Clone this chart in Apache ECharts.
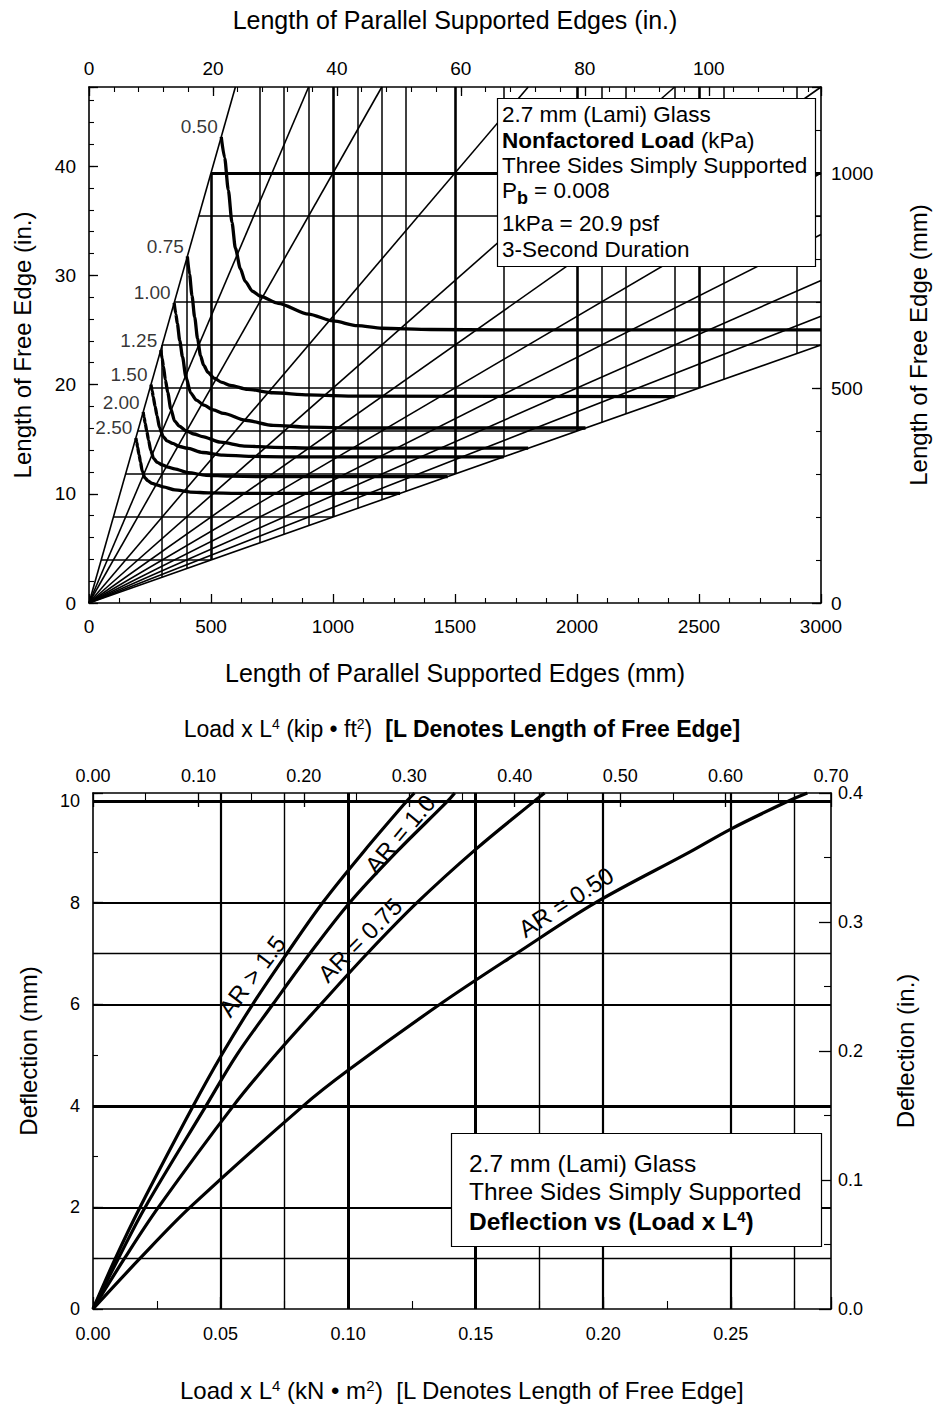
<!DOCTYPE html>
<html><head><meta charset="utf-8">
<script src="https://cdn.jsdelivr.net/npm/echarts@6/dist/echarts.min.js"></script>
<style>html,body{margin:0;padding:0;background:#fff}#c{width:938px;height:1410px}</style>
</head><body><div id="c"></div>
<script>
// ===== TOP CHART DATA (all in mm) =====
const aspectRatios = [0.5, 0.75, 1, 1.5, 2, 2.5, 3, 3.5, 4, 4.5, 5];
const gridVerticalsMM = [300, 400, 700, 800, 900, 1100, 1200, 1300, 1700, 2100, 2200, 2400, 2600, 2900];
const thickVerticalsMM = [500, 1000, 1500, 2000, 2500];
const gridHorizontalsMM = [100, 200, 300, 400, 500, 600, 700, 900];
const thickHorizontalsMM = [1000];
const loadLabels = ['0.50', '0.75', '1.00', '1.25', '1.50', '2.00', '2.50'];
const load050X = [542, 556, 571, 586, 600, 620, 640, 670, 700, 775, 900, 1000, 1100, 1200, 1400, 1700, 3000];
const load050Y = [1084, 1035, 960, 885, 825, 778, 748, 725, 714, 697, 672, 656, 645, 639, 636, 635, 635];
const load075X = [403, 412, 422, 433, 445, 457, 470, 488, 512, 545, 580, 650, 755, 900, 1100, 2400];
const load075Y = [806, 765, 715, 665, 615, 575, 553, 536, 523, 513, 506, 497, 489, 484, 481, 480];
const load100X = [349, 356, 362, 372, 383, 397, 417, 440, 471, 510, 552, 640, 755, 900, 1100, 2035];
const load100Y = [698, 672, 650, 610, 573, 526, 488, 472, 460, 449, 441, 425, 413, 409, 407, 407];
const load125X = [294, 300, 305, 313, 323, 335, 351, 371, 397, 430, 465, 539, 636, 759, 926, 1800];
const load125Y = [588, 568, 550, 519, 489, 452, 423, 411, 401, 393, 387, 374, 365, 362, 360, 360];
const load150X = [254, 259, 263, 271, 279, 289, 304, 320, 343, 371, 402, 466, 549, 655, 800, 1700];
const load150Y = [508, 493, 480, 457, 435, 408, 387, 377, 371, 364, 360, 350, 344, 341, 340, 340];
const load200X = [222, 226, 230, 237, 244, 253, 265, 280, 300, 324, 351, 407, 480, 573, 699, 1470];
const load200Y = [444, 431, 419, 399, 379, 355, 336, 327, 321, 316, 312, 303, 297, 295, 294, 294];
const load250X = [192, 196, 199, 205, 211, 218, 229, 242, 259, 281, 304, 352, 415, 495, 605, 1275];
const load250Y = [384, 373, 363, 345, 328, 307, 291, 284, 278, 274, 270, 263, 258, 256, 255, 255];

// ===== BOTTOM CHART DATA (x: kN·m², y: mm) =====
const arLabels = ['AR > 1.5', 'AR = 1.0', 'AR = 0.75', 'AR = 0.50'];
const ar15X = [0, 0.0088, 0.0184, 0.0393, 0.0504, 0.0626, 0.0760, 0.0900, 0.1060, 0.1230, 0.1260];
const ar15Y = [0, 1, 2, 4, 5, 6, 7, 8, 9, 10, 10.16];
const ar10X = [0, 0.0100, 0.0204, 0.0443, 0.0563, 0.0705, 0.0850, 0.1006, 0.1190, 0.1390, 0.1418];
const ar10Y = [0, 1, 2, 4, 5, 6, 7, 8, 9, 10, 10.16];
const ar075X = [0, 0.0124, 0.0256, 0.0550, 0.0715, 0.0893, 0.1075, 0.1270, 0.1500, 0.1730, 0.1770];
const ar075Y = [0, 1, 2, 4, 5, 6, 7, 8, 9.05, 10, 10.16];
const ar050X = [0, 0.0185, 0.0380, 0.0824, 0.1000, 0.1360, 0.1660, 0.1970, 0.2340, 0.2500, 0.2725, 0.2800];
const ar050Y = [0, 1, 2, 4, 4.7, 6, 7, 8, 9, 9.45, 10, 10.16];
const bottomVerticalsThin = [0.075, 0.175, 0.275];
const bottomVerticalsMid = [0.05, 0.20, 0.25];
const bottomVerticalsThick = [0.10, 0.15];
const bottomHorizontalsThin = [1, 7];
const bottomHorizontalsMid = [2, 6, 8];
const bottomHorizontalsThick = [4, 10];

// ===== unit conversions / limits =====
const MM_PER_IN = 25.4;
const TOP_X_MAX_MM = 3000, TOP_Y_MAX_MM = 1200;
const KNM2_PER_KIPFT2 = 4.4482216 * 0.09290304;
const BOT_X_MAX_KIP = 0.70, BOT_Y_MAX_IN = 0.4;
const BOT_X_MAX = BOT_X_MAX_KIP * KNM2_PER_KIPFT2;
const BOT_Y_MAX = BOT_Y_MAX_IN * MM_PER_IN;

const FONT = "'Liberation Sans', Arial, Helvetica, sans-serif";
const BLACK = '#000';

const arMin = Math.min(...aspectRatios), arMax = Math.max(...aspectRatios);
function fanSegs() {
  return aspectRatios.map(ar => {
    const xe = Math.min(TOP_X_MAX_MM, TOP_Y_MAX_MM * ar);
    return { coords: [[0, 0], [xe, xe / ar]] };
  });
}
function vSegs(list) {
  return list.map(x => ({ coords: [[x, x / arMax], [x, Math.min(x / arMin, TOP_Y_MAX_MM)]] }));
}
function hSegs(list) {
  return list.map(y => ({ coords: [[y * arMin, y], [Math.min(y * arMax, TOP_X_MAX_MM), y]] }));
}
function fullV(list) { return list.map(x => ({ coords: [[x, 0], [x, BOT_Y_MAX]] })); }
function fullH(list) { return list.map(y => ({ coords: [[0, y], [BOT_X_MAX, y]] })); }
function pairs(X, Y) { return X.map((x, i) => [x, Y[i]]); }
function isMult(v, step) { return Math.abs(v / step - Math.round(v / step)) < 1e-6; }

function majorAxis(o) {
  return Object.assign({
    type: 'value',
    axisLine: { show: true, onZero: false, lineStyle: { color: BLACK, width: 1.6 } },
    splitLine: { show: false },
    axisTick: { show: true, inside: true, length: o.tickLen || 9, lineStyle: { color: BLACK, width: 1.3 } },
    axisLabel: { show: true, color: BLACK, fontFamily: FONT, fontSize: o.fontSize || 19, margin: o.margin || 10, formatter: o.fmt },
    nameLocation: 'middle',
    nameTextStyle: { color: BLACK, fontFamily: FONT, fontSize: 24 }
  }, o.extra || {});
}
function minorAxis(o) {
  return Object.assign({
    type: 'value',
    axisLine: { show: false, onZero: false },
    splitLine: { show: false },
    axisTick: { show: true, inside: true, length: o.tickLen || 5, lineStyle: { color: BLACK, width: 1.1 } },
    axisLabel: { show: false }
  }, o.extra || {});
}

const richName = (size) => ({
  n: { color: BLACK, fontFamily: FONT, fontSize: size },
  b: { color: BLACK, fontFamily: FONT, fontSize: size, fontWeight: 'bold' },
  sup: { color: BLACK, fontFamily: FONT, fontSize: Math.round(size * 0.62), verticalAlign: 'top', lineHeight: 12 }
});

const xAxes = [
  majorAxis({ tickLen: 9, margin: 14, fmt: v => isMult(v, 500) ? String(v) : '',
    extra: { gridIndex: 0, position: 'bottom', min: 0, max: TOP_X_MAX_MM, interval: 500,
      minorTick: { show: true, splitNumber: 4, length: 5, lineStyle: { color: BLACK, width: 1.1 } },
      name: 'Length of Parallel Supported Edges (mm)', nameGap: 57,
      nameTextStyle: { color: BLACK, fontFamily: FONT, fontSize: 25 } } }),
  majorAxis({ tickLen: 9, margin: 9, fmt: v => isMult(v, 20) ? String(Math.round(v)) : '',
    extra: { gridIndex: 0, position: 'top', min: 0, max: TOP_X_MAX_MM / MM_PER_IN, interval: 20,
      name: 'Length of Parallel Supported Edges (in.)', nameGap: 55,
      nameTextStyle: { color: BLACK, fontFamily: FONT, fontSize: 25 } } }),
  minorAxis({ tickLen: 5, extra: { gridIndex: 0, position: 'top', min: 0, max: TOP_X_MAX_MM / MM_PER_IN, interval: 4 } }),
  majorAxis({ tickLen: 12, margin: 16, fontSize: 18, fmt: v => isMult(v, 0.05) ? v.toFixed(2) : '',
    extra: { gridIndex: 1, position: 'bottom', min: 0, max: BOT_X_MAX, interval: 0.05,
      name: '{n|Load x L}{sup|4}{n| (kN • m}{sup|2}{n|)  [L Denotes Length of Free Edge]}', nameGap: 69,
      nameTextStyle: { color: BLACK, fontFamily: FONT, fontSize: 24, rich: richName(24) } } }),
  minorAxis({ tickLen: 8, extra: { gridIndex: 1, position: 'bottom', min: 0, max: BOT_X_MAX, interval: 0.025 } }),
  majorAxis({ tickLen: 14, margin: 8, fontSize: 18, fmt: v => isMult(v, 0.1) ? v.toFixed(2) : '',
    extra: { gridIndex: 1, position: 'top', min: 0, max: BOT_X_MAX_KIP, interval: 0.1,
      minorTick: { show: true, splitNumber: 2, length: 7, lineStyle: { color: BLACK, width: 1.1 } },
      name: '{n|Load x L}{sup|4}{n| (kip • ft}{sup|2}{n|)  }{b|[L Denotes Length of Free Edge]}', nameGap: 53,
      nameTextStyle: { color: BLACK, fontFamily: FONT, fontSize: 23, rich: richName(23) } } })
];

const yAxes = [
  majorAxis({ tickLen: 9, margin: 13, fmt: v => isMult(v, 10) ? String(Math.round(v)) : '',
    extra: { gridIndex: 0, position: 'left', min: 0, max: TOP_Y_MAX_MM / MM_PER_IN, interval: 10,
      name: 'Length of Free Edge (in.)', nameGap: 55 } }),
  minorAxis({ tickLen: 5, extra: { gridIndex: 0, position: 'left', min: 0, max: TOP_Y_MAX_MM / MM_PER_IN, interval: 2 } }),
  majorAxis({ tickLen: 9, margin: 10, fmt: v => isMult(v, 500) ? String(v) : '',
    extra: { gridIndex: 0, position: 'right', min: 0, max: TOP_Y_MAX_MM, interval: 500,
      name: 'Length of Free Edge (mm)', nameGap: 85 } }),
  minorAxis({ tickLen: 5, extra: { gridIndex: 0, position: 'right', min: 0, max: TOP_Y_MAX_MM, interval: 100 } }),
  majorAxis({ tickLen: 10, margin: 13, fontSize: 18, fmt: v => isMult(v, 2) ? String(Math.round(v)) : '',
    extra: { gridIndex: 1, position: 'left', min: 0, max: BOT_Y_MAX, interval: 2,
      name: 'Deflection (mm)', nameGap: 53 } }),
  minorAxis({ tickLen: 5, extra: { gridIndex: 1, position: 'left', min: 0, max: BOT_Y_MAX, interval: 1 } }),
  majorAxis({ tickLen: 12, margin: 7, fontSize: 18, fmt: v => isMult(v, 0.1) ? v.toFixed(1) : '',
    extra: { gridIndex: 1, position: 'right', min: 0, max: BOT_Y_MAX_IN, interval: 0.1,
      minorTick: { show: true, splitNumber: 2, length: 7, lineStyle: { color: BLACK, width: 1.1 } },
      name: 'Deflection (in.)', nameGap: 62 } })
];

function linesSeries(data, width, xi, yi, z) {
  return { type: 'lines', coordinateSystem: 'cartesian2d', xAxisIndex: xi, yAxisIndex: yi,
    data: data, silent: true, z: z || 2,
    lineStyle: { color: BLACK, width: width, opacity: 1, curveness: 0 } };
}
function curveSeries(X, Y, xi, yi, w, monotone) {
  const s = { type: 'line', xAxisIndex: xi, yAxisIndex: yi, data: pairs(X, Y), silent: true,
    symbol: 'none', showSymbol: false, smooth: monotone ? 0.25 : 0.35, z: 5,
    lineStyle: { color: BLACK, width: w }, animation: false };
  if (monotone) s.smoothMonotone = 'x';
  return s;
}

const topCurves = [[load050X, load050Y], [load075X, load075Y], [load100X, load100Y], [load125X, load125Y],
  [load150X, load150Y], [load200X, load200Y], [load250X, load250Y]];

const series = [
  linesSeries(fanSegs(), 1.6, 0, 2),
  linesSeries(vSegs(gridVerticalsMM), 1.5, 0, 2),
  linesSeries(vSegs(thickVerticalsMM), 2.6, 0, 2),
  linesSeries(hSegs(gridHorizontalsMM), 1.5, 0, 2),
  linesSeries(hSegs(thickHorizontalsMM), 2.8, 0, 2),
  ...topCurves.map(c => curveSeries(c[0], c[1], 0, 2, 3.3, true)),
  { type: 'scatter', xAxisIndex: 0, yAxisIndex: 2, silent: true, z: 6, symbolSize: 1,
    itemStyle: { color: 'rgba(0,0,0,0)' },
    data: topCurves.map(c => [c[0][0], c[1][0]]),
    label: { show: true, position: 'left', distance: 3, offset: [0, -10], color: BLACK,
      fontFamily: FONT, fontSize: 19, formatter: p => loadLabels[p.dataIndex] } },
  linesSeries(fullV(bottomVerticalsThin), 1.4, 3, 4),
  linesSeries(fullV(bottomVerticalsMid), 2.2, 3, 4),
  linesSeries(fullV(bottomVerticalsThick), 3, 3, 4),
  linesSeries(fullH(bottomHorizontalsThin), 1.4, 3, 4),
  linesSeries(fullH(bottomHorizontalsMid), 2.2, 3, 4),
  linesSeries(fullH(bottomHorizontalsThick), 3, 3, 4),
  curveSeries(ar15X, ar15Y, 3, 4, 3.2, false),
  curveSeries(ar10X, ar10Y, 3, 4, 3.2, false),
  curveSeries(ar075X, ar075Y, 3, 4, 3.2, false),
  curveSeries(ar050X, ar050Y, 3, 4, 3.2, false)
];

function txt(x, y, text, size, extra) {
  return Object.assign({ type: 'text', x: x, y: y, z: 101,
    style: Object.assign({ text: text, fill: BLACK, fontFamily: FONT, fontSize: size,
      align: 'left', verticalAlign: 'middle', textAlign: 'left', textVerticalAlign: 'middle' }, (extra && extra.style) || {}) },
    (extra && extra.el) || {});
}
const deg = Math.PI / 180;
const arLabelPos = [[252, 976, 53], [400, 834, 50], [360, 940, 45], [566, 902, 33]];

const graphic = [
  { type: 'rect', z: 100, shape: { x: 497.5, y: 98.5, width: 318, height: 168 },
    style: { fill: '#fff', stroke: BLACK, lineWidth: 1.2 } },
  txt(502, 114, '2.7 mm (Lami) Glass', 22.5),
  txt(502, 140, '{b|Nonfactored Load} (kPa)', 22.5, { style: { rich: { b: { fontWeight: 'bold', fontSize: 22.5, fontFamily: FONT, fill: BLACK } } } }),
  txt(502, 165, 'Three Sides Simply Supported', 22.5),
  txt(502, 190, 'P', 22.5),
  txt(517, 198, 'b', 18, { style: { fontWeight: 'bold' } }),
  txt(534, 190, '= 0.008', 22.5),
  txt(502, 223, '1kPa = 20.9 psf', 22.5),
  txt(502, 249, '3-Second Duration', 22.5),
  { type: 'rect', z: 100, shape: { x: 451.5, y: 1133.5, width: 370, height: 113 },
    style: { fill: '#fff', stroke: BLACK, lineWidth: 1.2 } },
  txt(469, 1163, '2.7 mm (Lami) Glass', 24.5),
  txt(469, 1191, 'Three Sides Simply Supported', 24.5),
  txt(469, 1221, '{b|Deflection vs (Load x L}{s|4}{b|)}', 24.5, { style: { rich: {
    b: { fontWeight: 'bold', fontSize: 24.5, fontFamily: FONT, fill: BLACK },
    s: { fontWeight: 'bold', fontSize: 15, fontFamily: FONT, fill: BLACK, verticalAlign: 'top', lineHeight: 12 } } } }),
  ...arLabels.map((t, i) => ({ type: 'text', x: arLabelPos[i][0], y: arLabelPos[i][1], rotation: arLabelPos[i][2] * deg, z: 50,
    style: { text: t, fill: BLACK, fontFamily: FONT, fontSize: 24, align: 'center', verticalAlign: 'middle',
      textAlign: 'center', textVerticalAlign: 'middle' } }))
];

const chart = echarts.init(document.getElementById('c'), null, { renderer: 'svg', width: 938, height: 1410 });
chart.setOption({
  animation: false,
  backgroundColor: '#fff',
  grid: [
    { left: 89, top: 87, width: 739, height: 516, containLabel: false },
    { left: 93, top: 793, width: 738, height: 516, containLabel: false }
  ],
  xAxis: xAxes,
  yAxis: yAxes,
  series: series,
  graphic: graphic
});
</script>
</body></html>
